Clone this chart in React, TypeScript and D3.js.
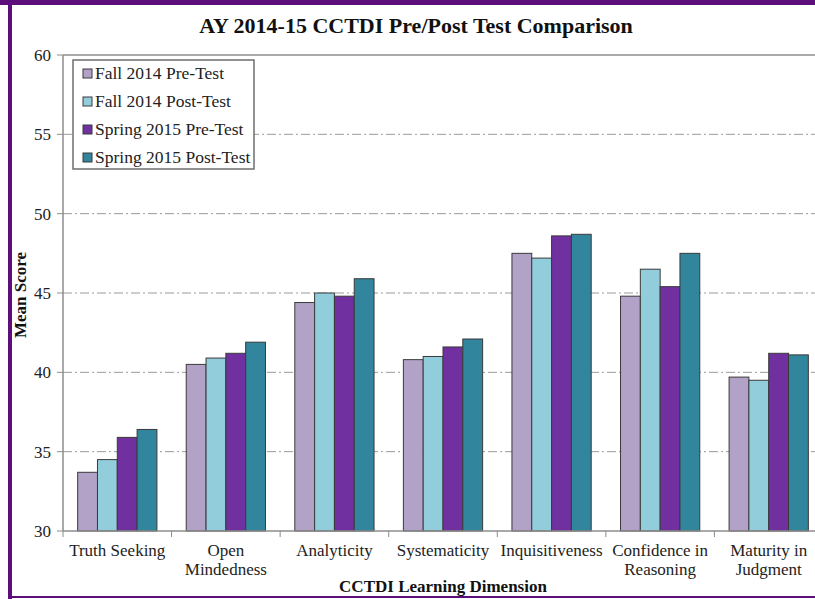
import React from 'react';
import * as d3 from 'd3';

const categories = [
  ['Truth Seeking'],
  ['Open', 'Mindedness'],
  ['Analyticity'],
  ['Systematicity'],
  ['Inquisitiveness'],
  ['Confidence in', 'Reasoning'],
  ['Maturity in', 'Judgment'],
];

const seriesNames = ['Fall 2014 Pre-Test', 'Fall 2014 Post-Test', 'Spring 2015 Pre-Test', 'Spring 2015 Post-Test'];
const seriesColors = ['#B3A2C7', '#92CDDC', '#7030A0', '#31859C'];

const fallPre = [33.7, 40.5, 44.4, 40.8, 47.5, 44.8, 39.7];
const fallPost = [34.5, 40.9, 45.0, 41.0, 47.2, 46.5, 39.5];
const springPre = [35.9, 41.2, 44.8, 41.6, 48.6, 45.4, 41.2];
const springPost = [36.4, 41.9, 45.9, 42.1, 48.7, 47.5, 41.1];

const yTicks = [30, 35, 40, 45, 50, 55, 60];

const W = 815;
const H = 599;
const font = '"Liberation Serif", "Times New Roman", serif';

export default function App() {
  const left = 63;
  const right = 823;
  const top = 55;
  const bottom = 531;

  const keys = categories.map((c) => c.join(' '));
  const series = [fallPre, fallPost, springPre, springPost];

  const x0 = d3.scaleBand<string>().domain(keys).range([left, right]).paddingInner(0).paddingOuter(0);
  const x1 = d3
    .scaleBand<string>()
    .domain(seriesNames)
    .range([0, x0.bandwidth()])
    .paddingInner(0)
    .paddingOuter(0.74);
  const y = d3.scaleLinear().domain([30, 60]).range([bottom, top]);

  const gridTicks = yTicks.filter((t) => t > 30 && t < 60);
  const boundaries = d3.range(keys.length + 1).map((i) => left + i * x0.step());

  return (
    <svg width={W} height={H} style={{ position: 'absolute', left: 0, top: 0, background: '#fff' }}>
      {/* frame */}
      <rect x={0} y={0} width={W} height={5} fill="#5C0E7A" />
      <rect x={8} y={0} width={4} height={H} fill="#5C0E7A" />
      <rect x={8} y={596} width={W} height={2} fill="#5C0E7A" />

      <text x={416} y={33} textAnchor="middle" fontFamily={font} fontWeight="bold" fontSize={22} fill="#111">
        AY 2014-15 CCTDI Pre/Post Test Comparison
      </text>

      {/* gridlines */}
      {gridTicks.map((t) => (
        <line key={t} x1={left} x2={W} y1={y(t)} y2={y(t)} stroke="#9a9a9a" strokeWidth={1} strokeDasharray="9,3,2,3" />
      ))}
      <line x1={left} x2={W} y1={top} y2={top} stroke="#8c8c8c" strokeWidth={1.5} />

      {/* bars */}
      {keys.map((k, ci) => (
        <g key={k} transform={`translate(${x0(k)},0)`}>
          {seriesNames.map((s, si) => (
            <rect
              key={s}
              x={x1(s)}
              y={y(series[si][ci])}
              width={x1.bandwidth()}
              height={bottom - y(series[si][ci])}
              fill={seriesColors[si]}
              stroke="#3a3a3a"
              strokeWidth={1}
            />
          ))}
        </g>
      ))}

      {/* y axis */}
      <line x1={left} x2={left} y1={top} y2={bottom} stroke="#8c8c8c" strokeWidth={1.5} />
      {yTicks.map((t) => (
        <g key={t}>
          <line x1={left - 6} x2={left} y1={y(t)} y2={y(t)} stroke="#8c8c8c" strokeWidth={1} />
          <text x={51} y={y(t) + 6} textAnchor="end" fontFamily={font} fontSize={17} fill="#222">
            {t}
          </text>
        </g>
      ))}

      {/* x axis */}
      <line x1={left} x2={W} y1={bottom} y2={bottom} stroke="#8c8c8c" strokeWidth={1.5} />
      {boundaries.map((b, i) => (
        <line key={i} x1={b} x2={b} y1={bottom} y2={bottom + 6} stroke="#8c8c8c" strokeWidth={1} />
      ))}
      {categories.map((c, ci) => (
        <text
          key={ci}
          x={(x0(keys[ci]) as number) + x0.bandwidth() / 2}
          y={556}
          textAnchor="middle"
          fontFamily={font}
          fontSize={17}
          fill="#222"
        >
          {c.map((line, li) => (
            <tspan key={li} x={(x0(keys[ci]) as number) + x0.bandwidth() / 2} dy={li === 0 ? 0 : 19}>
              {line}
            </tspan>
          ))}
        </text>
      ))}

      {/* axis titles */}
      <text
        transform={`translate(26,${(top + bottom) / 2 + 2}) rotate(-90)`}
        textAnchor="middle"
        fontFamily={font}
        fontWeight="bold"
        fontSize={17}
        fill="#111"
      >
        Mean Score
      </text>
      <text x={(left + right) / 2} y={592} textAnchor="middle" fontFamily={font} fontWeight="bold" fontSize={17} fill="#111">
        CCTDI Learning Dimension
      </text>

      {/* legend */}
      <rect x={73} y={60} width={181} height={109} fill="#fff" stroke="#6e6e6e" strokeWidth={1.5} />
      {seriesNames.map((s, i) => (
        <g key={s} transform={`translate(83,${73 + i * 28})`}>
          <rect x={0} y={-4} width={9} height={9} fill={seriesColors[i]} stroke="#3a3a3a" strokeWidth={1} />
          <text x={12} y={6} fontFamily={font} fontSize={17.5} fill="#222">
            {s}
          </text>
        </g>
      ))}
    </svg>
  );
}
